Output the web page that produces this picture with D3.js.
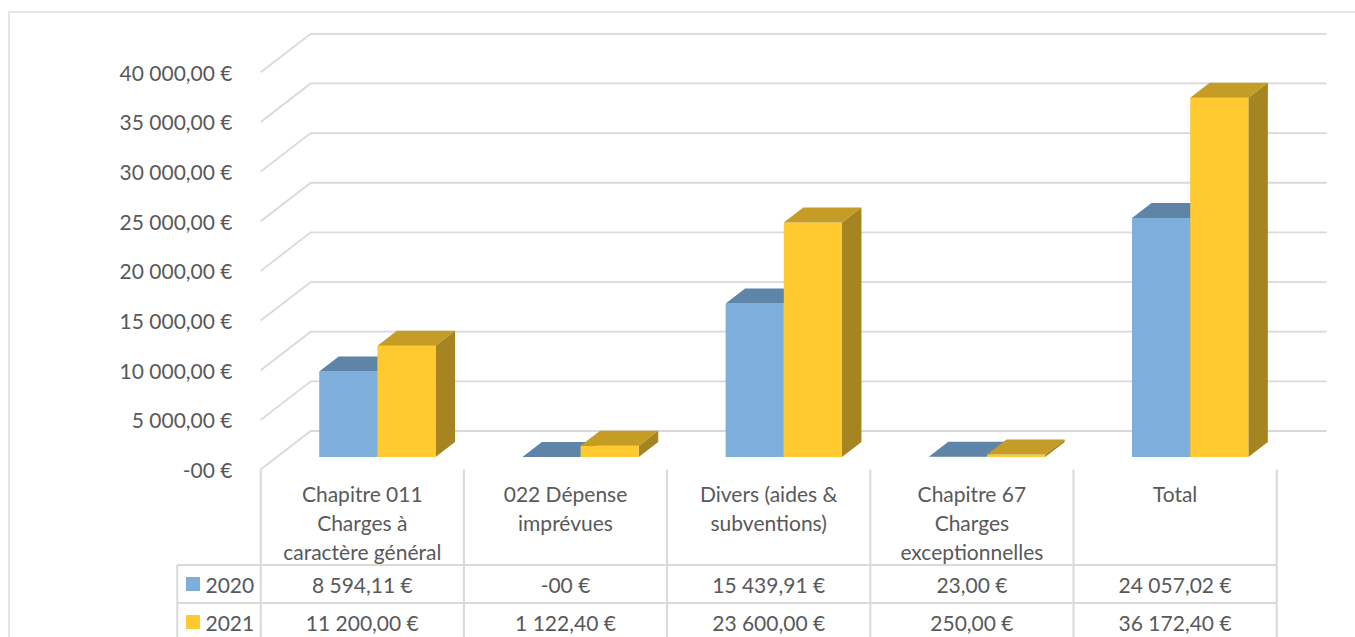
<!DOCTYPE html>
<html>
<head>
<meta charset="utf-8">
<script src="https://cdn.jsdelivr.net/npm/d3@7"></script>
<style>
  html, body { margin: 0; padding: 0; background: #fff; }
  svg { display: block; }
  text { font-family: Lato, "Open Sans", sans-serif; fill: #595959; }
</style>
</head>
<body>
<svg id="chart" width="1355" height="637"></svg>
<script>
// ---- data ----
const categories = [
  "Chapitre 011\nCharges à\ncaractère général",
  "022 Dépense\nimprévues",
  "Divers (aides &\nsubventions)",
  "Chapitre 67\nCharges\nexceptionnelles",
  "Total"
];
const seriesNames = ["2020", "2021"];
const values2020 = [8594.11, 0, 15439.91, 23, 24057.02];
const values2021 = [11200, 1122.4, 23600, 250, 36172.4];
const yTicks = [0, 5000, 10000, 15000, 20000, 25000, 30000, 35000, 40000];

const seriesValues = [values2020, values2021];
const colors = {
  "2020": { front: "#7DAEDC", top: "#5E84A8", side: "#5A7FA3" },
  "2021": { front: "#FECA30", top: "#C49C26", side: "#A58421" }
};

const svg = d3.select("#chart");
const fontSize = 21;

// number format: "8 594,11 €", zero -> "-00 €"
const loc = d3.formatLocale({ decimal: ",", thousands: "\u00a0", grouping: [3], currency: ["", " €"] });
const fmt2 = loc.format(",.2f");
const fmtEuro = v => v === 0 ? "-00 €" : fmt2(v).replace(/\u00a0/g, " ") + " €";

// ---- layout ----
const plotLeft = 260.7, plotRight = 1276.7;
const yZero = 469.5, yTop40k = 72.3;
const DX = 50, DY = 38.5;           // depth vector front->back
const z0 = 0.327, z1 = 0.717;        // bar depth range

const x = d3.scaleBand().domain(categories).range([plotLeft, plotRight]).padding(0);
const bw = x.bandwidth();
const xs = d3.scaleBand().domain(seriesNames).range([bw * 0.2075, bw * 0.78]).padding(0);
const y = d3.scaleLinear().domain([0, 40000]).range([yZero, yTop40k]);

const proj = (xf, v, z) => [xf + z * DX, y(v) - z * DY];

// outer border
svg.append("rect")
  .attr("x", 9).attr("y", 12).attr("width", 1400).attr("height", 700)
  .attr("fill", "none").attr("stroke", "#d9d9d9").attr("stroke-width", 1.3);

// gridlines (side wall diagonals + back wall horizontals)
const grid = svg.append("g").attr("stroke", "#d9d9d9").attr("stroke-width", 1.8).attr("fill", "none");
yTicks.forEach(t => {
  const a = proj(plotLeft, t, 0), b = proj(plotLeft, t, 1), c = proj(plotRight, t, 1);
  grid.append("path").attr("d", `M${a[0]},${a[1]}L${b[0]},${b[1]}L${c[0]},${c[1]}`);
});

// y axis labels
svg.append("g").selectAll("text").data(yTicks).join("text")
  .attr("x", 232.5).attr("y", d => y(d))
  .attr("text-anchor", "end").attr("dominant-baseline", "central")
  .attr("font-size", fontSize)
  .text(d => fmtEuro(d));

// bars
const barsG = svg.append("g");
seriesNames.forEach((s, si) => {
  const c = colors[s];
  categories.forEach((cat, ci) => {
    const v = seriesValues[si][ci];
    const xl = x(cat) + xs(s), xr = xl + xs.bandwidth();
    const g = barsG.append("g");
    const poly = pts => pts.map(p => p.join(",")).join(" ");
    const f = [proj(xl, 0, z0), proj(xr, 0, z0), proj(xr, v, z0), proj(xl, v, z0)];
    const sd = [proj(xr, 0, z0), proj(xr, 0, z1), proj(xr, v, z1), proj(xr, v, z0)];
    const tp = [proj(xl, v, z0), proj(xr, v, z0), proj(xr, v, z1), proj(xl, v, z1)];
    g.append("polygon").attr("points", poly(sd)).attr("fill", c.side);
    g.append("polygon").attr("points", poly(f)).attr("fill", c.front);
    g.append("polygon").attr("points", poly(tp)).attr("fill", c.top);
  });
});

// ---- data table ----
const tableLeft = 177.3;
const headerTop = yZero;
const row1Top = 565, row2Top = 603, row3Top = 641;
const tbl = svg.append("g").attr("stroke", "#d9d9d9").attr("stroke-width", 2).attr("fill", "none");
const colEdges = categories.map(c => x(c)).concat([plotRight]);
colEdges.forEach(cx => {
  tbl.append("line").attr("x1", cx).attr("x2", cx).attr("y1", headerTop).attr("y2", 650);
});
tbl.append("line").attr("x1", tableLeft).attr("x2", tableLeft).attr("y1", row1Top).attr("y2", 650);
[row1Top, row2Top, row3Top].forEach(ry => {
  tbl.append("line").attr("x1", tableLeft).attr("x2", plotRight).attr("y1", ry).attr("y2", ry);
});

// header labels
const lineH = 29.3;
categories.forEach(cat => {
  const lines = cat.split("\n");
  const t = svg.append("text")
    .attr("text-anchor", "middle").attr("font-size", fontSize);
  lines.forEach((ln, i) => {
    t.append("tspan").attr("x", x(cat) + bw / 2).attr("y", 493.3 + i * lineH)
      .attr("dominant-baseline", "central").text(ln);
  });
});

// row labels & values
const rowCenters = [(row1Top + row2Top) / 2, (row2Top + row3Top) / 2];
seriesNames.forEach((s, si) => {
  const cy = rowCenters[si];
  svg.append("rect").attr("x", 186).attr("y", cy - 7).attr("width", 14).attr("height", 14)
    .attr("fill", colors[s].front);
  svg.append("text").attr("x", 205.5).attr("y", cy).attr("dominant-baseline", "central")
    .attr("font-size", fontSize).text(s);
  categories.forEach((cat, ci) => {
    svg.append("text").attr("x", x(cat) + bw / 2).attr("y", cy)
      .attr("text-anchor", "middle").attr("dominant-baseline", "central")
      .attr("font-size", fontSize).text(fmtEuro(seriesValues[si][ci]));
  });
});
</script>
</body>
</html>
